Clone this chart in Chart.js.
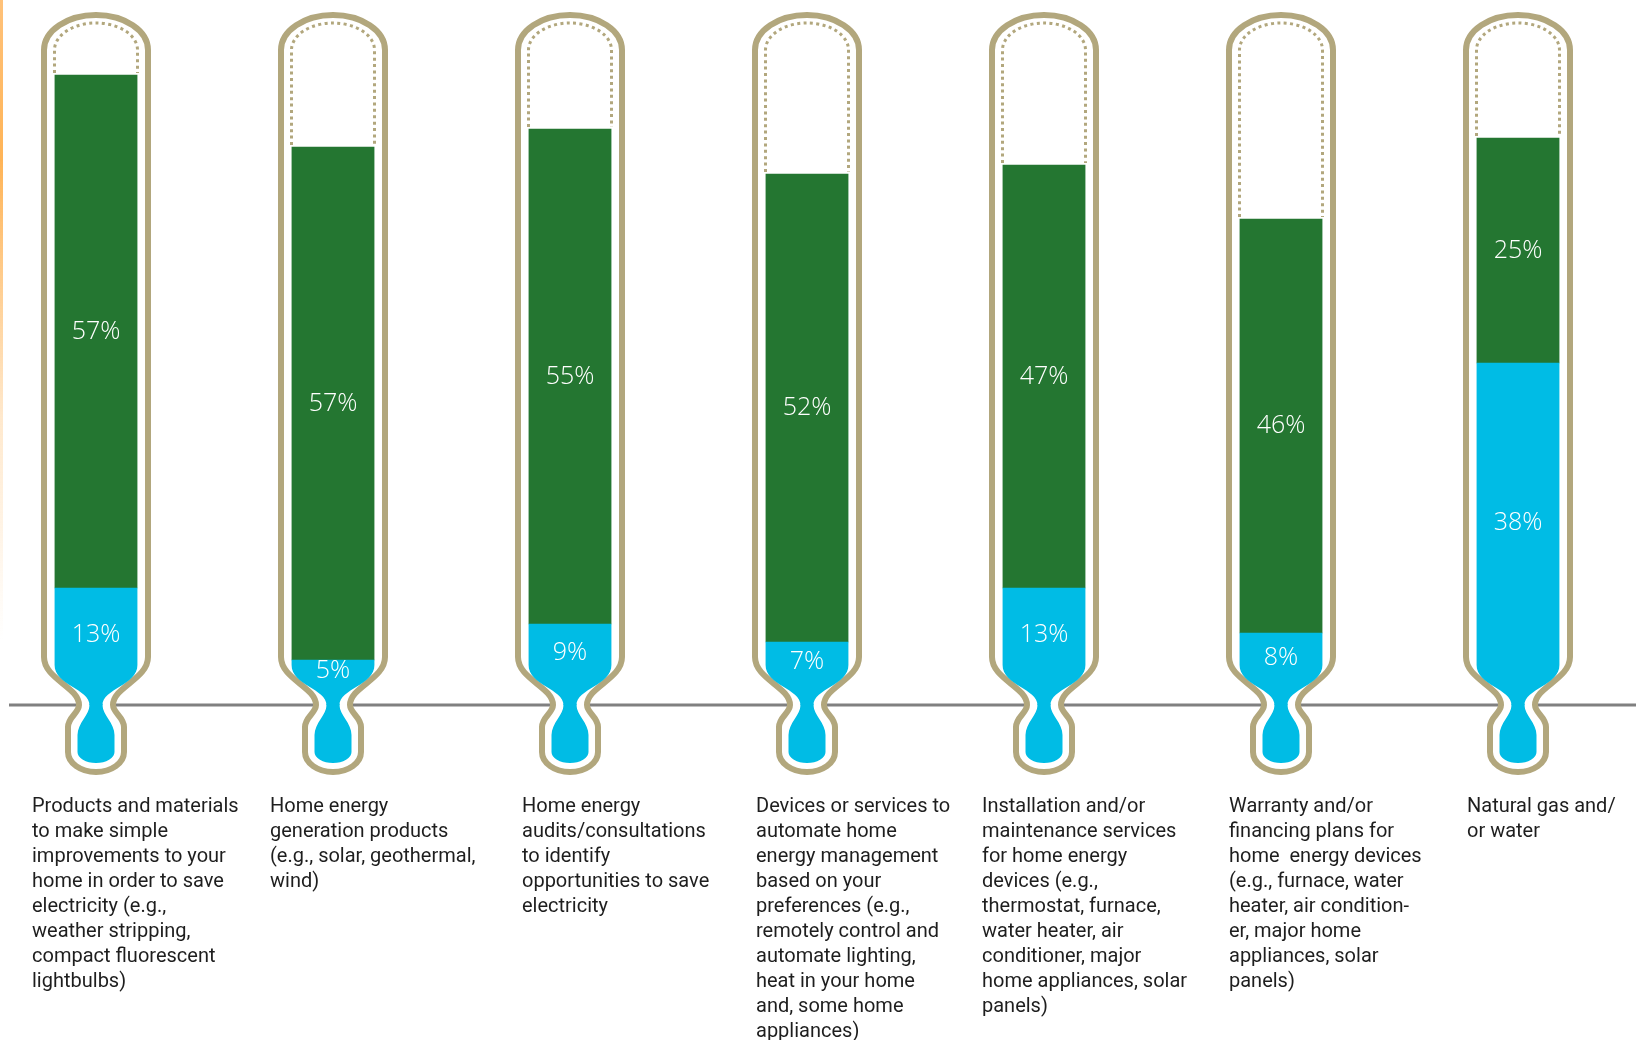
<!DOCTYPE html>
<html>
<head>
<meta charset="utf-8">
<script src="https://cdn.jsdelivr.net/npm/chart.js@4.4.1/dist/chart.umd.min.js"></script>
<style>
  html, body { margin: 0; padding: 0; background: #fff; }
  #wrap { position: relative; width: 1639px; height: 1040px; }
  #edge {
    position: absolute; left: 0; top: 0; width: 3px; height: 640px;
    background: linear-gradient(to bottom, #ffc27a 0%, #ffb457 25%, rgba(255, 190, 110, 0.35) 65%, rgba(255, 200, 130, 0) 100%);
  }
</style>
</head>
<body>
<div id="wrap">
  <div id="edge"></div>
  <canvas id="thermoChart" width="1639" height="1040"></canvas>
</div>
<script>
// category labels, broken into lines as in the picture
const categories = [
  ['Products and materials', 'to make simple', 'improvements to your', 'home in order to save', 'electricity (e.g.,', 'weather stripping,', 'compact fluorescent', 'lightbulbs)'],
  ['Home energy', 'generation products', '(e.g., solar, geothermal,', 'wind)'],
  ['Home energy', 'audits/consultations', 'to identify', 'opportunities to save', 'electricity'],
  ['Devices or services to', 'automate home', 'energy management', 'based on your', 'preferences (e.g.,', 'remotely control and', 'automate lighting,', 'heat in your home', 'and, some home', 'appliances)'],
  ['Installation and/or', 'maintenance services', 'for home energy', 'devices (e.g.,', 'thermostat, furnace,', 'water heater, air', 'conditioner, major', 'home appliances, solar', 'panels)'],
  ['Warranty and/or', 'financing plans for', 'home  energy devices', '(e.g., furnace, water', 'heater, air condition-', 'er, major home', 'appliances, solar', 'panels)'],
  ['Natural gas and/', 'or water']
];
const blueValues = [13, 5, 9, 7, 13, 8, 38];
const greenValues = [57, 57, 55, 52, 47, 46, 25];

const GREEN = '#247631';
const BLUE = '#00bce5';
const TAN = '#b2a77d';
// left edge of each category caption, relative to its thermometer centre
const captionShift = [-64, -63, -48, -51, -62, -52, -51];

function bottle(ctx, cx, g) {
  ctx.moveTo(cx - g.hwT, g.yE);
  ctx.ellipse(cx, g.yE, g.hwT, g.ry, 0, Math.PI, 2 * Math.PI);
  ctx.lineTo(cx + g.hwT, g.yTaper);
  ctx.bezierCurveTo(cx + g.hwT, g.yTaper + g.c1, cx + g.hwN, g.yNeck - g.c2, cx + g.hwN, g.yNeck);
  ctx.bezierCurveTo(cx + g.hwN, g.yNeck + g.c3, cx + g.hwB, g.yBulb - g.c4, cx + g.hwB, g.yBulb);
  ctx.lineTo(cx + g.hwB, g.yBulbEnd);
  ctx.ellipse(cx, g.yBulbEnd, g.hwB, g.yBottom - g.yBulbEnd, 0, 0, Math.PI);
  ctx.lineTo(cx - g.hwB, g.yBulb);
  ctx.bezierCurveTo(cx - g.hwB, g.yBulb - g.c4, cx - g.hwN, g.yNeck + g.c3, cx - g.hwN, g.yNeck);
  ctx.bezierCurveTo(cx - g.hwN, g.yNeck - g.c2, cx - g.hwT, g.yTaper + g.c1, cx - g.hwT, g.yTaper);
  ctx.closePath();
}

function shapes(chart) {
  const y0 = chart.scales.y.getPixelForValue(0);
  const top = chart.chartArea.top;
  const outer = { hwT: 52, hwN: 17, hwB: 28, yE: top + 38, ry: 35,
    yTaper: y0 - 48, yNeck: y0, yBulb: y0 + 22, yBulbEnd: y0 + 47, yBottom: y0 + 67,
    c1: 22, c2: 18, c3: 8, c4: 10 };
  const inner = { hwT: 41.5, hwN: 6.5, hwB: 18.5, yE: top + 38, ry: 27,
    yTaper: y0 - 40, yNeck: y0, yBulb: y0 + 30, yBulbEnd: y0 + 47, yBottom: y0 + 58,
    c1: 20, c2: 16, c3: 10, c4: 12 };
  return { y0, outer, inner };
}

const thermometers = {
  id: 'thermometers',
  beforeDatasetsDraw(chart) {
    const ctx = chart.ctx;
    const { y0, outer, inner } = shapes(chart);
    const xs = categories.map((c, i) => chart.scales.x.getPixelForValue(i));

    ctx.save();
    ctx.strokeStyle = '#808080';
    ctx.lineWidth = 3;
    ctx.beginPath();
    ctx.moveTo(9, y0);
    ctx.lineTo(1636, y0);
    ctx.stroke();
    xs.forEach(cx => {
      ctx.beginPath();
      bottle(ctx, cx, outer);
      ctx.fillStyle = '#fff';
      ctx.fill();
      ctx.strokeStyle = TAN;
      ctx.lineWidth = 6;
      ctx.stroke();
    });
    ctx.restore();

    // bars only show inside the glass
    ctx.save();
    ctx.beginPath();
    xs.forEach(cx => bottle(ctx, cx, inner));
    ctx.clip();
  },
  afterDatasetsDraw(chart) {
    const ctx = chart.ctx;
    const { y0, inner } = shapes(chart);
    const xs = categories.map((c, i) => chart.scales.x.getPixelForValue(i));

    // liquid in the bulb
    ctx.fillStyle = BLUE;
    xs.forEach(cx => ctx.fillRect(cx - 40, y0 - 1, 80, 80));
    ctx.restore();

    // dotted outline of the empty part
    const tops = chart.getDatasetMeta(1).data;
    ctx.save();
    ctx.strokeStyle = TAN;
    ctx.lineWidth = 3;
    ctx.setLineDash([3, 3.4]);
    xs.forEach((cx, i) => {
      const yTop = tops[i].y;
      ctx.beginPath();
      ctx.moveTo(cx - inner.hwT, yTop - 2);
      ctx.lineTo(cx - inner.hwT, inner.yE);
      ctx.ellipse(cx, inner.yE, inner.hwT, inner.ry, 0, Math.PI, 2 * Math.PI);
      ctx.lineTo(cx + inner.hwT, yTop - 2);
      ctx.stroke();
    });
    ctx.restore();

    // percentage labels
    ctx.save();
    ctx.fillStyle = '#fff';
    ctx.font = '300 25px "Open Sans"';
    ctx.textAlign = 'center';
    ctx.textBaseline = 'middle';
    const yLow = chart.scales.y.getPixelForValue(2.5);
    chart.getDatasetMeta(0).data.forEach((el, i) => {
      ctx.fillText(blueValues[i] + '%', el.x, (el.y + yLow) / 2);
    });
    chart.getDatasetMeta(1).data.forEach((el, i) => {
      ctx.fillText(greenValues[i] + '%', el.x, (el.y + el.base) / 2);
    });
    ctx.restore();
  },
  afterDraw(chart) {
    const ctx = chart.ctx;
    ctx.save();
    ctx.fillStyle = '#1e1e1e';
    ctx.font = '20px Roboto';
    ctx.textAlign = 'left';
    ctx.textBaseline = 'alphabetic';
    categories.forEach((lines, i) => {
      const x = chart.scales.x.getPixelForValue(i) + captionShift[i];
      lines.forEach((line, j) => ctx.fillText(line, x, 812 + j * 25));
    });
    ctx.restore();
  }
};

function renderChart() {
  const canvas = document.getElementById('thermoChart');
  new Chart(canvas, {
    type: 'bar',
    data: {
      labels: categories.map(lines => lines.join(' ')),
      datasets: [
        { label: 'Lower share', data: blueValues, backgroundColor: BLUE },
        { label: 'Upper share', data: greenValues, backgroundColor: GREEN }
      ]
    },
    options: {
      responsive: false,
      animation: false,
      layout: { padding: { left: 96, right: 121, top: 12, bottom: 335 } },
      datasets: { bar: { barThickness: 83, borderWidth: 0, clip: false } },
      scales: {
        x: { stacked: true, offset: false, display: false },
        y: { stacked: true, min: 0, max: 77, display: false }
      },
      plugins: { legend: { display: false }, tooltip: { enabled: false } }
    },
    plugins: [thermometers]
  });
}

document.addEventListener('DOMContentLoaded', renderChart);
</script>
</body>
</html>
